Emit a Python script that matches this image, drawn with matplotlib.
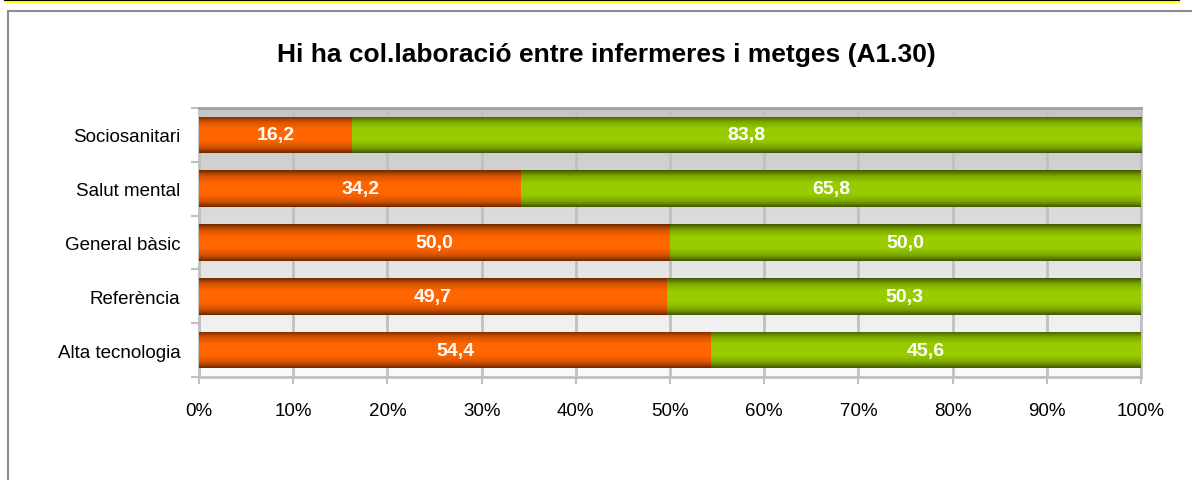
import numpy as np
import matplotlib
matplotlib.use("Agg")
import matplotlib.pyplot as plt
from matplotlib.colors import LinearSegmentedColormap
from matplotlib.patches import Rectangle
from matplotlib.lines import Line2D

plt.rcParams["font.family"] = ["Liberation Sans", "DejaVu Sans"]

# Dades
categories = ["Sociosanitari", "Salut mental", "General bàsic", "Referència", "Alta tecnologia"]
si_vals = [16.2, 34.2, 50.0, 49.7, 54.4]
no_vals = [83.8, 65.8, 50.0, 50.3, 45.6]
x_ticks = [0, 10, 20, 30, 40, 50, 60, 70, 80, 90, 100]
x_labels = [f"{t}%" for t in x_ticks]
titol = "Hi ha col.laboració entre infermeres i metges (A1.30)"


def _perfil(n=64):
    """Perfil vertical de la barra: fosc a les vores, clar al centre."""
    t = np.linspace(0, 1, n)
    v = 1 - np.abs(2 * t - 1) ** 1.6
    v = np.clip(v * 1.15, 0, 1)
    return v.reshape(-1, 1)


cmap_taronja = LinearSegmentedColormap.from_list("t", ["#6e2800", "#d45200", "#ff6600"])
cmap_verd = LinearSegmentedColormap.from_list("v", ["#445800", "#7aa600", "#99cc00"])

fig = plt.figure(figsize=(11.92, 4.81), dpi=100)
ax = fig.add_axes([199 / 1192, 1 - 378 / 481, 942 / 1192, 269 / 481])

# Marc del gràfic i línia superior
fig.patches.append(Rectangle((8 / 1192, -0.1), 1.2, 1.1 - 12 / 481, transform=fig.transFigure,
                             fill=False, edgecolor="#8c8c8c", linewidth=1.5, zorder=0))
fig.lines.append(Line2D([5 / 1192, 1179 / 1192], [1 - 1 / 481, 1 - 1 / 481], transform=fig.transFigure,
                        color="black", linewidth=1.6))
fig.lines.append(Line2D([5 / 1192, 1179 / 1192], [1 - 2.8 / 481, 1 - 2.8 / 481], transform=fig.transFigure,
                        color="#ffff00", linewidth=0.8))

# Fons amb degradat
fons = np.linspace(0, 1, 100).reshape(-1, 1)
cmap_fons = LinearSegmentedColormap.from_list("f", ["#c6c6c6", "#fafafa"])
ax.imshow(fons, extent=[0, 1, 0, 1], transform=ax.transAxes, cmap=cmap_fons,
          aspect="auto", zorder=0, origin="upper")

y = np.arange(len(categories))
h = 0.68
barres_si = ax.barh(y, si_vals, height=h, color="#ff6600", zorder=2)
barres_no = ax.barh(y, no_vals, left=si_vals, height=h, color="#99cc00", zorder=2)

perfil = _perfil()
for barres, cmap in ((barres_si, cmap_taronja), (barres_no, cmap_verd)):
    for b in barres:
        x0, y0 = b.get_x(), b.get_y()
        im = ax.imshow(perfil, extent=[x0, x0 + b.get_width(), y0, y0 + b.get_height()],
                       cmap=cmap, vmin=0, vmax=1, aspect="auto", zorder=3, interpolation="bilinear")
        im.set_clip_path(b)

for i in range(len(categories)):
    ax.text(si_vals[i] / 2, y[i], f"{si_vals[i]:.1f}".replace(".", ","), ha="center", va="center",
            color="white", fontsize=14, fontweight="bold", zorder=4)
    ax.text(si_vals[i] + no_vals[i] / 2, y[i], f"{no_vals[i]:.1f}".replace(".", ","), ha="center",
            va="center", color="white", fontsize=14, fontweight="bold", zorder=4)

ax.set_xlim(0, 100)
ax.set_ylim(len(categories) - 0.5, -0.5)
ax.set_aspect("auto")
ax.set_xticks(x_ticks)
ax.set_xticklabels(x_labels, fontsize=13.5)
ax.set_yticks(y)
ax.set_yticklabels(categories, fontsize=13.5)
ax.set_yticks(np.arange(len(categories) + 1) - 0.5, minor=True)
ax.tick_params(axis="y", which="major", length=0, pad=13.5)
ax.tick_params(axis="y", which="minor", length=6, color="#c0c0c0", width=1.5)
ax.tick_params(axis="x", which="major", length=5, color="#c0c0c0", width=1.5, pad=13)
ax.grid(axis="x", color="#c0c0c0", linewidth=2, zorder=1)
ax.set_axisbelow(True)

for lloc, sp in ax.spines.items():
    sp.set_color("#c0c0c0")
    sp.set_linewidth(2)
ax.spines["top"].set_color("#a0a0a0")

fig.text(606 / 1192, 1 - 55 / 481, titol, ha="center", va="center", fontsize=19, fontweight="bold")

fig.savefig("out.png", dpi=100)
